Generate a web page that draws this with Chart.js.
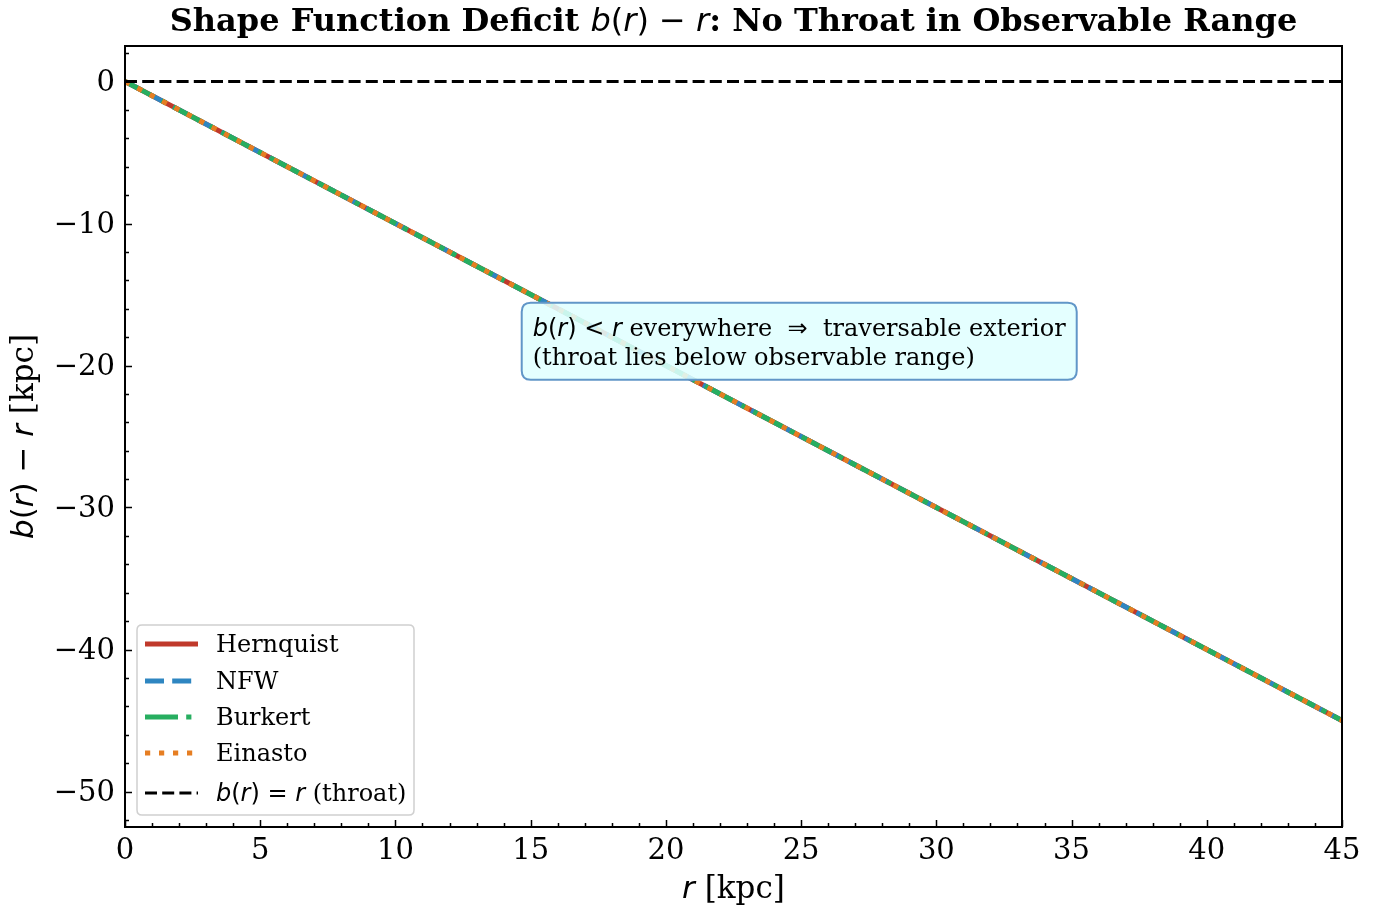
<!DOCTYPE html>
<html>
<head>
<meta charset="utf-8">
<script src="https://cdn.jsdelivr.net/npm/chart.js@4.4.1/dist/chart.umd.min.js"></script>
<style>
  html, body { margin: 0; padding: 0; background: #fff; }
</style>
</head>
<body>
<canvas id="chart" width="1377" height="907"></canvas>
<script>
// data
const radius = [0, 5, 10, 15, 20, 25, 30, 35, 40, 45];
const hernquist = [0, -5, -10, -15, -20, -25, -30, -35, -40, -45];
const nfw = [0, -5, -10, -15, -20, -25, -30, -35, -40, -45];
const burkert = [0, -5, -10, -15, -20, -25, -30, -35, -40, -45];
const einasto = [0, -5, -10, -15, -20, -25, -30, -35, -40, -45];
const throatR = [0, 45];
const throatY = [0, 0];

const xTicks = [0, 5, 10, 15, 20, 25, 30, 35, 40, 45];
const yTicks = [-50, -40, -30, -20, -10, 0];

const SERIF = '"DejaVu Serif"';
const SANS = '"DejaVu Sans"';

const pts = (xs, ys) => xs.map((x, i) => ({ x: x, y: ys[i] }));

function mathRuns(size, parts) {
  // 'i' italic math, 'm' upright math, 'b' bold serif, else serif
  return parts.map(p => ({
    t: p[0],
    f: p[1] === 'i' ? `italic ${size}px ${SANS}` :
       p[1] === 'm' ? `${size}px ${SANS}` :
       p[1] === 'b' ? `bold ${size}px ${SERIF}` : `${size}px ${SERIF}`
  }));
}

function runsWidth(ctx, runs) {
  let w = 0;
  runs.forEach(r => { ctx.font = r.f; w += ctx.measureText(r.t).width; });
  return w;
}

function drawRuns(ctx, runs, x, y, align) {
  const w = runsWidth(ctx, runs);
  let cx = align === 'center' ? x - w / 2 : align === 'right' ? x - w : x;
  ctx.textAlign = 'left';
  runs.forEach(r => {
    ctx.font = r.f;
    ctx.fillText(r.t, cx, y);
    cx += ctx.measureText(r.t).width;
  });
  return w;
}

function roundRect(ctx, x, y, w, h, r) {
  ctx.beginPath();
  ctx.moveTo(x + r, y);
  ctx.lineTo(x + w - r, y);
  ctx.quadraticCurveTo(x + w, y, x + w, y + r);
  ctx.lineTo(x + w, y + h - r);
  ctx.quadraticCurveTo(x + w, y + h, x + w - r, y + h);
  ctx.lineTo(x + r, y + h);
  ctx.quadraticCurveTo(x, y + h, x, y + h - r);
  ctx.lineTo(x, y + r);
  ctx.quadraticCurveTo(x, y, x + r, y);
  ctx.closePath();
}

const legendRuns = {
  'Hernquist': mathRuns(24, [['Hernquist', 's']]),
  'NFW': mathRuns(24, [['NFW', 's']]),
  'Burkert': mathRuns(24, [['Burkert', 's']]),
  'Einasto': mathRuns(24, [['Einasto', 's']]),
  'throat': mathRuns(24, [['b', 'i'], ['(', 'm'], ['r', 'i'], [')', 'm'], [' = ', 'm'], ['r', 'i'], [' (throat)', 's']])
};

const decor = {
  id: 'decor',
  afterDatasetsDraw(chart) {
    const ctx = chart.ctx;
    const a = chart.chartArea;
    const xs = chart.scales.x, ys = chart.scales.y;
    ctx.save();
    ctx.fillStyle = '#000';
    ctx.textBaseline = 'alphabetic';

    // inward ticks, bottom and left
    ctx.strokeStyle = '#000';
    ctx.lineWidth = 1.5;
    ctx.beginPath();
    for (let v = xs.min; v <= xs.max + 1e-9; v += 1) {
      const px = Math.round(xs.getPixelForValue(v)) + 0.5;
      const len = (v % 5 === 0) ? 7 : 4;
      ctx.moveTo(px, a.bottom);
      ctx.lineTo(px, a.bottom - len);
    }
    for (let v = -52; v <= ys.max; v += 2) {
      const py = Math.round(ys.getPixelForValue(v)) + 0.5;
      const len = (v % 10 === 0) ? 7 : 4;
      ctx.moveTo(a.left, py);
      ctx.lineTo(a.left + len, py);
    }
    ctx.stroke();

    // frame
    ctx.lineWidth = 2;
    ctx.strokeRect(a.left, a.top, a.right - a.left, a.bottom - a.top);

    // annotation box
    const l1 = mathRuns(24, [['b', 'i'], ['(', 'm'], ['r', 'i'], [')', 'm'], [' < ', 'm'], ['r', 'i'],
      [' everywhere ', 's'], [' \u21D2 ', 'm'], [' traversable exterior', 's']]);
    const l2 = mathRuns(24, [['(throat lies below observable range)', 's']]);
    const tw = Math.max(runsWidth(ctx, l1), runsWidth(ctx, l2));
    const bw = tw + 22, bh = 77;
    const cxp = a.left + 0.554 * (a.right - a.left);
    const cyp = a.top + 0.378 * (a.bottom - a.top);
    const bx = cxp - bw / 2, by = cyp - bh / 2;
    roundRect(ctx, bx, by, bw, bh, 9);
    ctx.fillStyle = 'rgba(224, 255, 255, 0.88)';
    ctx.fill();
    ctx.strokeStyle = '#6196c8';
    ctx.lineWidth = 2;
    ctx.stroke();
    ctx.fillStyle = '#000';
    drawRuns(ctx, l1, bx + 11, by + 33, 'left');
    drawRuns(ctx, l2, bx + 11, by + 62, 'left');

    // legend
    const lx = 137, ly = 625, lw = 277, lh = 190;
    roundRect(ctx, lx, ly, lw, lh, 5);
    ctx.fillStyle = 'rgba(255,255,255,0.85)';
    ctx.fill();
    ctx.strokeStyle = '#d0d0d0';
    ctx.lineWidth = 1.5;
    ctx.stroke();
    const rowY = [644, 681, 717, 753, 793];
    chart.data.datasets.forEach((ds, i) => {
      const y = rowY[i];
      ctx.save();
      ctx.strokeStyle = ds.borderColor;
      ctx.lineWidth = ds.borderWidth;
      ctx.setLineDash(ds.borderDash || []);
      ctx.beginPath();
      ctx.moveTo(lx + 8, y);
      ctx.lineTo(lx + 61, y);
      ctx.stroke();
      ctx.restore();
      ctx.fillStyle = '#000';
      ctx.textBaseline = 'middle';
      drawRuns(ctx, legendRuns[ds.key], lx + 79, y + 2, 'left');
    });

    // title
    ctx.textBaseline = 'alphabetic';
    const title = mathRuns(32, [['Shape Function Deficit ', 'b'], ['b', 'i'], ['(', 'm'], ['r', 'i'], [')', 'm'],
      [' \u2212 ', 'm'], ['r', 'i'], [': No Throat in Observable Range', 'b']]);
    drawRuns(ctx, title, (a.left + a.right) / 2, 31, 'center');

    // axis titles
    drawRuns(ctx, mathRuns(31, [['r', 'i'], [' [kpc]', 's']]), (a.left + a.right) / 2, 898, 'center');
    ctx.save();
    ctx.translate(33, (a.top + a.bottom) / 2);
    ctx.rotate(-Math.PI / 2);
    drawRuns(ctx, mathRuns(31, [['b', 'i'], ['(', 'm'], ['r', 'i'], [')', 'm'], [' \u2212 ', 'm'], ['r', 'i'], [' [kpc]', 's']]), 0, 0, 'center');
    ctx.restore();

    ctx.restore();
  }
};

const lineBase = { pointRadius: 0, tension: 0, fill: false, borderWidth: 5 };

new Chart(document.getElementById('chart'), {
  type: 'line',
  data: {
    datasets: [
      Object.assign({ key: 'Hernquist', label: 'Hernquist', data: pts(radius, hernquist), borderColor: '#c0392b', order: 4 }, lineBase),
      Object.assign({ key: 'NFW', label: 'NFW', data: pts(radius, nfw), borderColor: '#2e86c1', borderDash: [19, 8.2], order: 3 }, lineBase),
      Object.assign({ key: 'Burkert', label: 'Burkert', data: pts(radius, burkert), borderColor: '#27ae60', borderDash: [33, 8.2, 5.2, 8.2], order: 2 }, lineBase),
      Object.assign({ key: 'Einasto', label: 'Einasto', data: pts(radius, einasto), borderColor: '#e67e22', borderDash: [5.2, 8.8], order: 1 }, lineBase),
      { key: 'throat', label: 'b(r) = r (throat)', data: pts(throatR, throatY), borderColor: '#000', borderWidth: 3, borderDash: [12, 5.2], pointRadius: 0, tension: 0, fill: false, order: 0 }
    ]
  },
  options: {
    responsive: false,
    animation: false,
    layout: { padding: { top: 46, right: 35, left: 0, bottom: 0 } },
    plugins: { legend: { display: false }, tooltip: { enabled: false } },
    scales: {
      x: {
        type: 'linear', min: 0, max: 45,
        afterFit: s => { s.height = 80; },
        afterBuildTicks: s => { s.ticks = xTicks.map(v => ({ value: v })); },
        grid: { display: false, drawTicks: false },
        border: { display: false },
        ticks: { font: { family: 'DejaVu Serif', size: 29 }, color: '#000', padding: 7, maxRotation: 0, autoSkip: false }
      },
      y: {
        type: 'linear', min: -52.5, max: 2.5,
        afterFit: s => { s.width = 125; },
        afterBuildTicks: s => { s.ticks = yTicks.map(v => ({ value: v })); },
        grid: { display: false, drawTicks: false },
        border: { display: false },
        ticks: {
          font: { family: 'DejaVu Serif', size: 29 }, color: '#000', padding: 10, autoSkip: false, labelOffset: 2,
          callback: v => v < 0 ? '\u2212' + Math.abs(v) : String(v)
        }
      }
    }
  },
  plugins: [decor]
});
</script>
</body>
</html>
